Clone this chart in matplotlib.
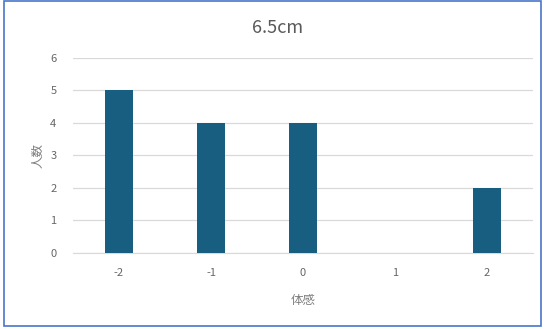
import matplotlib.pyplot as plt
from matplotlib.patches import Rectangle

plt.rcParams['font.family'] = ['Noto Sans CJK JP', 'DejaVu Sans']

# data
categories = ["-2", "-1", "0", "1", "2"]
counts = [5, 4, 4, 0, 2]
y_ticks = [0, 1, 2, 3, 4, 5, 6]

fig = plt.figure(figsize=(5.45, 3.29), dpi=100)
ax = fig.add_axes([0.134, 0.231, 0.844, 0.593])

x = range(len(categories))
ax.bar(x, counts, width=0.31, color="#175e80", zorder=3)

ax.set_xlim(-0.5, len(categories) - 0.5)
ax.set_ylim(0, 6)
ax.set_xticks(list(x))
ax.set_xticklabels(categories)
ax.set_yticks(y_ticks)

ax.grid(axis="y", color="#d9d9d9", linewidth=0.9, zorder=0)
for s in ["top", "right", "left"]:
    ax.spines[s].set_visible(False)
ax.spines["bottom"].set_color("#d9d9d9")
ax.tick_params(length=0, labelsize=8, colors="#666666")
ax.tick_params(axis="x", pad=11)
ax.tick_params(axis="y", pad=12)

# title centred on the whole figure
fig.text(0.51, 0.915, "6.5cm", fontsize=13, color="#595959", ha="center", va="center")
ax.set_xlabel("体感", fontsize=9, color="#7f7f7f", labelpad=11)
ax.set_ylabel("人数", fontsize=9, color="#7f7f7f", labelpad=4)

# figure border
fig.patches.append(Rectangle((0.007, 0.008), 0.986, 0.988, transform=fig.transFigure,
                             fill=False, edgecolor="#4a76c8", linewidth=1.2))

fig.savefig("out.png", dpi=100)
